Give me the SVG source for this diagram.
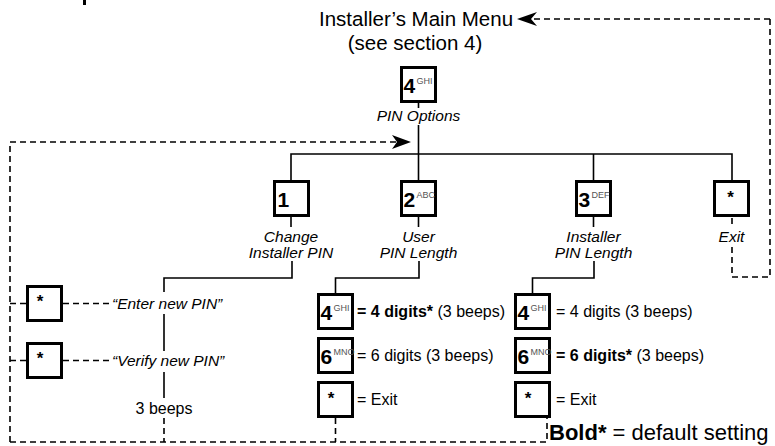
<svg xmlns="http://www.w3.org/2000/svg" width="775" height="446" viewBox="0 0 775 446">
<style>
.key{fill:#fff;stroke:#000;stroke-width:3}
.ln{fill:none;stroke:#000;stroke-width:1.6}
.dl{fill:none;stroke:#000;stroke-width:1.6;stroke-dasharray:6 4}
.t{font-family:"Liberation Sans",Arial,sans-serif;fill:#000}
.big{font-size:21px;font-weight:bold}
.sup{font-size:9px;fill:#555}
.lab{font-size:15.5px;font-style:italic}
.opt{font-size:16px}
.ttl{font-size:20.5px}
.star{font-size:17px;font-weight:bold}
</style>
<rect x="83" y="0" width="3" height="5" fill="#000"/>
<g id="connectors">
  <path class="dl" d="M770,19 H531 M770,19 V277 H732 V246 M732,218 V226"/>
  <polygon points="517,19 537,12 531,19 537,26" fill="#000"/>
  <path class="dl" d="M10,442 V142 H398"/>
  <polygon points="411,142 392,135 397,142 392,149" fill="#000"/>
  <path class="ln" d="M418.5,103 V108 M418.5,125 V154 M291,181 V154 H732 V181 M418.5,154 V181 M593.5,154 V181"/>
  <path class="ln" d="M291,217 V227 M418.5,217 V227 M593.5,217 V227"/>
  <path class="ln" d="M292,261 V278 H164 V292 M164,314 V351 M164,372 V398"/>
  <path class="dl" d="M164,418 V442"/>
  <path class="ln" d="M419,261 V278 H335.5 V293"/>
  <path class="ln" d="M594,261 V278 H532.5 V293"/>
  <path class="dl" d="M10,303.5 H26 M63,303.5 H112 M10,360.5 H26 M63,360.5 H112"/>
  <path class="dl" d="M10,442 H547 V418 M335.5,418 V442"/>
</g>
<g id="title">
  <text class="t ttl" x="416" y="26" text-anchor="middle">Installer’s Main Menu</text>
  <text class="t ttl" x="415" y="50" text-anchor="middle">(see section 4)</text>
</g>
<g id="key-4-pin-options">
  <rect class="key" x="401.5" y="67.5" width="34" height="34"/>
  <text class="t big" x="403.5" y="92.5">4</text>
  <text class="t sup" x="416.5" y="83.5">GHI</text>
  <text class="t lab" x="418.5" y="121" text-anchor="middle">PIN Options</text>
</g>
<g id="key-1">
  <rect class="key" x="274.5" y="181.5" width="34" height="34"/>
  <text class="t big" x="277.5" y="206.5">1</text>
  <text class="t lab" x="291" y="242" text-anchor="middle">Change</text>
  <text class="t lab" x="291" y="258" text-anchor="middle">Installer PIN</text>
</g>
<g id="key-2">
  <rect class="key" x="401.5" y="181.5" width="34" height="34"/>
  <text class="t big" x="403.5" y="206.5">2</text>
  <text class="t sup" x="416.5" y="197.5">ABC</text>
  <text class="t lab" x="418.5" y="242" text-anchor="middle">User</text>
  <text class="t lab" x="418.5" y="258" text-anchor="middle">PIN Length</text>
</g>
<g id="key-3">
  <rect class="key" x="576.5" y="181.5" width="34" height="34"/>
  <text class="t big" x="578.5" y="206.5">3</text>
  <text class="t sup" x="591.5" y="197.5">DEF</text>
  <text class="t lab" x="593.5" y="242" text-anchor="middle">Installer</text>
  <text class="t lab" x="593.5" y="258" text-anchor="middle">PIN Length</text>
</g>
<g id="key-exit">
  <rect class="key" x="714.5" y="181.5" width="34" height="34"/>
  <text class="t star" x="730.5" y="203" text-anchor="middle">*</text>
  <text class="t lab" x="731.5" y="242" text-anchor="middle">Exit</text>
</g>
<g id="enter-pin">
  <rect class="key" x="27.5" y="286.5" width="34" height="34"/>
  <text class="t star" x="40" y="307" text-anchor="middle">*</text>
  <text class="t lab" x="112" y="309">“Enter new PIN”</text>
</g>
<g id="verify-pin">
  <rect class="key" x="27.5" y="343.5" width="34" height="34"/>
  <text class="t star" x="40" y="364" text-anchor="middle">*</text>
  <text class="t lab" x="112" y="366">“Verify new PIN”</text>
  <text class="t opt" x="164" y="414" text-anchor="middle">3 beeps</text>
</g>
<g id="user-4">
  <rect class="key" x="318.5" y="294.5" width="34" height="34"/>
  <text class="t big" x="320.5" y="319.5">4</text>
  <text class="t sup" x="333.5" y="310.5">GHI</text>
  <text class="t opt" x="357" y="317"><tspan font-weight="bold">= 4 digits*</tspan> (3 beeps)</text>
</g>
<g id="user-6">
  <rect class="key" x="318.5" y="338.5" width="34" height="34"/>
  <text class="t big" x="320.5" y="363.5">6</text>
  <text class="t sup" x="333.5" y="354.5">MNO</text>
  <text class="t opt" x="357" y="361">= 6 digits (3 beeps)</text>
</g>
<g id="user-exit">
  <rect class="key" x="318.5" y="382.5" width="34" height="34"/>
  <text class="t star" x="331" y="404" text-anchor="middle">*</text>
  <text class="t opt" x="357" y="405">= Exit</text>
</g>
<g id="inst-4">
  <rect class="key" x="515.5" y="294.5" width="34" height="34"/>
  <text class="t big" x="517.5" y="319.5">4</text>
  <text class="t sup" x="530.5" y="310.5">GHI</text>
  <text class="t opt" x="556" y="317">= 4 digits (3 beeps)</text>
</g>
<g id="inst-6">
  <rect class="key" x="515.5" y="338.5" width="34" height="34"/>
  <text class="t big" x="517.5" y="363.5">6</text>
  <text class="t sup" x="530.5" y="354.5">MNO</text>
  <text class="t opt" x="556" y="361"><tspan font-weight="bold">= 6 digits*</tspan> (3 beeps)</text>
</g>
<g id="inst-exit">
  <rect class="key" x="515.5" y="382.5" width="34" height="34"/>
  <text class="t star" x="528" y="404" text-anchor="middle">*</text>
  <text class="t opt" x="556" y="405">= Exit</text>
</g>
<g id="legend">
  <text class="t" x="549" y="440" font-size="22px"><tspan font-weight="bold">Bold*</tspan> = default setting</text>
</g>
</svg>
